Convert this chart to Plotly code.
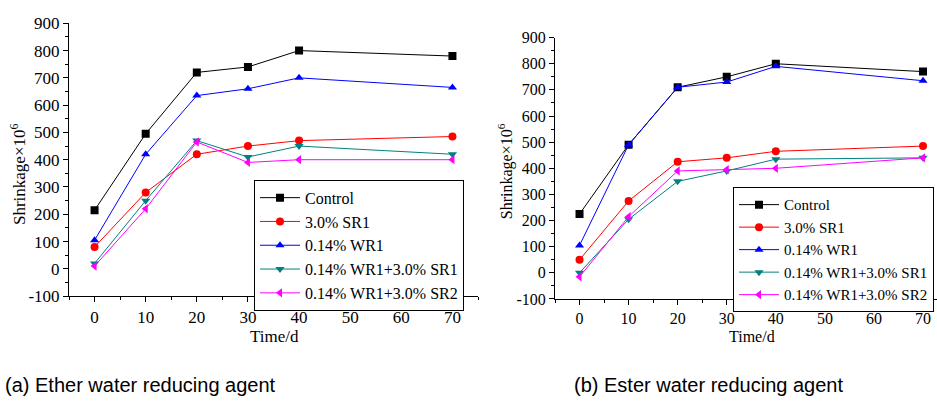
import plotly.graph_objects as go

days = [0, 10, 20, 30, 40, 70]
series_names = ["Control", "3.0% SR1", "0.14% WR1", "0.14% WR1+3.0% SR1", "0.14% WR1+3.0% SR2"]

# (a) Ether water reducing agent
a_control = [215, 495, 720, 740, 800, 780]
a_sr1 = [80, 280, 420, 450, 470, 485]
a_wr1 = [105, 420, 635, 660, 700, 665]
a_wr1_sr1 = [20, 250, 470, 410, 450, 420]
a_wr1_sr2 = [10, 220, 465, 390, 400, 400]

# (b) Ester water reducing agent
b_control = [225, 490, 710, 750, 800, 770]
b_sr1 = [50, 275, 425, 440, 465, 485]
b_wr1 = [105, 490, 710, 730, 790, 735]
b_wr1_sr1 = [0, 205, 350, 390, 435, 440]
b_wr1_sr2 = [-15, 215, 390, 395, 400, 440]

y_ticks = [-100, 0, 100, 200, 300, 400, 500, 600, 700, 800, 900]
y_ticklabels = ["-100", "0", "100", "200", "300", "400", "500", "600", "700", "800", "900"]
x_ticks = [0, 10, 20, 30, 40, 50, 60, 70]

colors = ["#000000", "#FF0000", "#0000FF", "#008080", "#FF00FF"]
symbols = ["square", "circle", "triangle-up", "triangle-down", "triangle-left"]

FONT = "'Liberation Serif', 'Times New Roman', Times, serif"
fig = go.Figure()

for panel, data in ((1, [a_control, a_sr1, a_wr1, a_wr1_sr1, a_wr1_sr2]),
                    (2, [b_control, b_sr1, b_wr1, b_wr1_sr1, b_wr1_sr2])):
    for i, (name, vals) in enumerate(zip(series_names, data)):
        fig.add_trace(go.Scatter(
            x=days, y=vals, name=name, mode="lines+markers",
            line=dict(color=colors[i], width=1),
            marker=dict(symbol=symbols[i], size=8, color=colors[i]),
            xaxis="x" if panel == 1 else "x2",
            yaxis="y" if panel == 1 else "y2",
            legend="legend" if panel == 1 else "legend2",
        ))


def axis_common(size):
    return dict(
        showline=True, linecolor="#000000", linewidth=1, mirror=False,
        showgrid=False, zeroline=False,
        ticks="outside", ticklen=5, tickwidth=1, tickcolor="#000000",
        tickfont=dict(family=FONT, size=size, color="#000000"),
    )


minor_x = dict(ticks="outside", ticklen=3, dtick=5, tickcolor="#000000", showgrid=False)
minor_y = dict(ticks="outside", ticklen=3, dtick=50, tickcolor="#000000", showgrid=False)

fig.update_layout(
    width=937, height=412,
    margin=dict(l=0, r=0, t=0, b=0),
    paper_bgcolor="white", plot_bgcolor="white",
    font=dict(family=FONT, color="#000000"),
    showlegend=True,
    xaxis=dict(domain=[69/937, 478/937], range=[-5, 75], tickvals=x_ticks,
               minor=minor_x, anchor="y", **axis_common(17)),
    yaxis=dict(domain=[1-301/412, 1-15/412], range=[-100, 900],
               tickvals=y_ticks, ticktext=y_ticklabels,
               minor=minor_y, anchor="x", **axis_common(17)),
    xaxis2=dict(domain=[555/937, 1.0], range=[-5, 72.85], tickvals=x_ticks,
                minor=minor_x, anchor="y2", **axis_common(16)),
    yaxis2=dict(domain=[1-304/412, 1-30/412], range=[-100, 900],
                tickvals=y_ticks, ticktext=y_ticklabels,
                minor=minor_y, anchor="x2", **axis_common(16)),
    legend=dict(x=254/937, y=1-179/412, xanchor="left", yanchor="top",
                bordercolor="#000000", borderwidth=1, bgcolor="white",
                font=dict(family=FONT, size=16, color="#000000"),
                itemwidth=40, tracegroupgap=0),
    legend2=dict(x=733/937, y=1-187/412, xanchor="left", yanchor="top",
                 bordercolor="#000000", borderwidth=1, bgcolor="white",
                 font=dict(family=FONT, size=15, color="#000000"),
                 itemwidth=40, tracegroupgap=0),
)

cap_font = dict(family="'Liberation Sans', Arial, sans-serif", size=20, color="#000000")
annotations = [
    dict(text="Shrinkage×10<sup>6</sup>", x=18/937, y=1-173/412, textangle=-90,
         font=dict(family=FONT, size=17, color="#000000")),
    dict(text="Shrinkage×10<sup>6</sup>", x=505/937, y=1-170/412, textangle=-90,
         font=dict(family=FONT, size=16, color="#000000")),
    dict(text="Time/d", x=274/937, y=1-343/412, font=dict(family=FONT, size=17, color="#000000")),
    dict(text="Time/d", x=752/937, y=1-343/412, font=dict(family=FONT, size=16, color="#000000")),
    dict(text="(a) Ether water reducing agent", x=3/937, y=1-394/412, xanchor="left", font=cap_font),
    dict(text="(b) Ester water reducing agent", x=572/937, y=1-394/412, xanchor="left", font=cap_font),
]
for a in annotations:
    a.setdefault("xanchor", "center")
    a.update(xref="paper", yref="paper", showarrow=False, yanchor="middle")
fig.update_layout(annotations=annotations)

fig.write_html("out.html", config={"displayModeBar": False},
               post_script="document.body.style.margin='0';document.body.style.padding='0';")
